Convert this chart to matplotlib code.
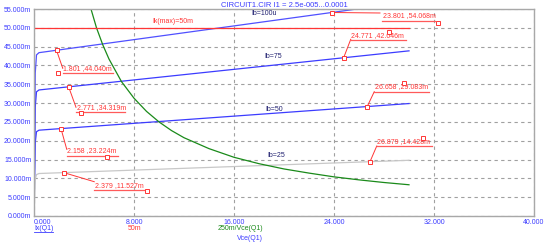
import matplotlib
matplotlib.use("Agg")
import matplotlib.pyplot as plt
from matplotlib.ticker import FuncFormatter

plt.rcParams['font.family'] = ['Liberation Sans', 'DejaVu Sans']

# curvas Ic x Vce (mA)
vce = [0, 0.05, 0.1, 0.2, 0.4, 0.8, 30]
ib100 = [0, 20, 38, 42.8, 43.4, 43.58, 56.89]
ib75 = [0, 15, 29, 33.0, 33.49, 33.63, 43.88]
ib50 = [0, 10, 19.5, 22.4, 22.8, 22.9, 29.88]
ib25 = [0, 5, 9.8, 11.0, 11.29, 11.34, 14.8]

# potencia maxima 250m/Vce
pot_x = [4.4, 5, 5.5, 6, 7, 8, 9, 10, 11, 12, 14, 16, 18, 20, 22, 24, 26, 28, 30]
pot_y = [56.8, 50.0, 45.5, 41.7, 35.7, 31.3, 27.8, 25.0, 22.7, 20.8, 17.9, 15.6,
         13.9, 12.5, 11.4, 10.4, 9.6, 8.9, 8.3]

# corrente maxima
ik_x = [0, 30]
ik_y = [50, 50]

# cursores
cur_x = [1.801, 2.771, 2.158, 2.379, 23.801, 24.771, 26.658, 26.879]
cur_y = [44.040, 34.319, 23.224, 11.527, 54.068, 42.046, 29.083, 14.428]
cur_txt = ["1.801 ,44.040m", "2.771 ,34.319m", "2.158 ,23.224m", "2.379 ,11.527m",
           "23.801 ,54.068m", "24.771 ,42.046m", "26.658 ,29.083m", "26.879 ,14.428m"]

# posicoes dos rotulos (fim do traco, sublinhado, quadradinho)
lead_end = [(2.30, 39.24), (3.36, 28.88), (2.62, 17.72), (4.82, 9.11),
            (27.68, 53.94), (25.34, 46.95), (27.22, 33.03), (27.42, 18.6)]
und = [(2.30, 6.34, 37.92), (3.36, 7.28, 27.63), (2.62, 6.74, 16.02), (4.82, 9.02, 6.91),
       (27.84, 32.08, 51.94), (25.34, 29.76, 46.76), (27.22, 31.6, 33.03), (27.42, 31.82, 18.6)]
handle = [(1.90, 37.92), (3.76, 27.29), (5.82, 15.76), (9.02, 6.72),
          (32.32, 51.36), (28.42, 48.97), (29.6, 35.26), (31.14, 20.64)]

blue = '#3c3cff'
red = '#ff3535'
green = '#1a8a1a'
navy = '#202070'
fs = 5

fig = plt.figure(figsize=(5.53, 2.46), dpi=100)
ax = fig.add_axes([34/553, 1-216/246, 500/553, 207/246])

ax.plot(vce, ib100, color='#5050ff', lw=0.9)
ax.plot(vce, ib75, color=blue, lw=0.9)
ax.plot(vce, ib50, color=blue, lw=0.9)
ax.plot(vce, ib25, color='#c8c8c8', lw=0.9)
ax.plot(pot_x, pot_y, color=green, lw=0.9)
ax.plot(ik_x, ik_y, color=red, lw=0.9)

for i in range(len(cur_x)):
    lx, ly = lead_end[i]
    ux0, ux1, uy = und[i]
    ax.plot([cur_x[i], lx], [cur_y[i], ly], color=red, lw=0.7, zorder=5)
    ax.plot([ux0, ux1], [uy, uy], color='#ff5a5a', lw=0.9, zorder=5)
    ax.text(ux0 + 0.05, uy + 0.35, cur_txt[i], color=red, fontsize=fs, va='bottom', ha='left', zorder=6)
    ax.plot(cur_x[i], cur_y[i], 's', ms=3, mfc='white', mec=red, mew=0.7, zorder=7)
    ax.plot(handle[i][0], handle[i][1], 's', ms=3, mfc='white', mec=red, mew=0.7, zorder=7)

ax.text(18.4, 53.9, "Ib=100u", color=navy, fontsize=fs, ha='center', va='center')
ax.text(19.1, 42.4, "Ib=75", color=navy, fontsize=fs, ha='center', va='center')
ax.text(19.2, 28.4, "Ib=50", color=navy, fontsize=fs, ha='center', va='center')
ax.text(19.4, 16.0, "Ib=25", color=navy, fontsize=fs, ha='center', va='center')
ax.text(11.1, 51.8, "Ik(max)=50m", color=red, fontsize=fs, ha='center', va='center')

ax.set_xlim(0, 40)
ax.set_ylim(0, 55)
ax.set_xticks([0, 8, 16, 24, 32, 40])
ax.set_yticks(list(range(0, 56, 5)))
ax.xaxis.set_major_formatter(FuncFormatter(lambda v, p: f"{v:.3f}"))
ax.yaxis.set_major_formatter(FuncFormatter(lambda v, p: f"{v:.3f}m"))
ax.tick_params(length=0, labelsize=fs, labelcolor=blue)
ax.tick_params(axis='y', pad=2)
ax.tick_params(axis='x', pad=2)
ax.get_xticklabels()[0].set_ha('left')
ax.grid(True, color='#a0a0a0', linestyle=(0, (3, 3)), lw=0.8)
for s in ax.spines.values():
    s.set_color('#a8a8a8')
    s.set_linewidth(1)

ax.set_title("CIRCUIT1.CIR I1 = 2.5e-005...0.0001", color=blue, fontsize=5.5, pad=1)

fig.text(34/553, 1-228/246, "Ix(Q1)", color=blue, fontsize=fs, ha='left', va='center')
fig.add_artist(plt.Line2D([34/553, 53/553], [1-232/246, 1-232/246], color=blue, lw=0.6))
fig.text(135/553, 1-228/246, "50m", color=red, fontsize=fs, ha='center', va='center')
fig.text(240/553, 1-228/246, "250m/Vce(Q1)", color=green, fontsize=fs, ha='center', va='center')
fig.text(250/553, 1-238/246, "Vce(Q1)", color=blue, fontsize=fs, ha='center', va='center')

fig.savefig("out.png", dpi=100)
